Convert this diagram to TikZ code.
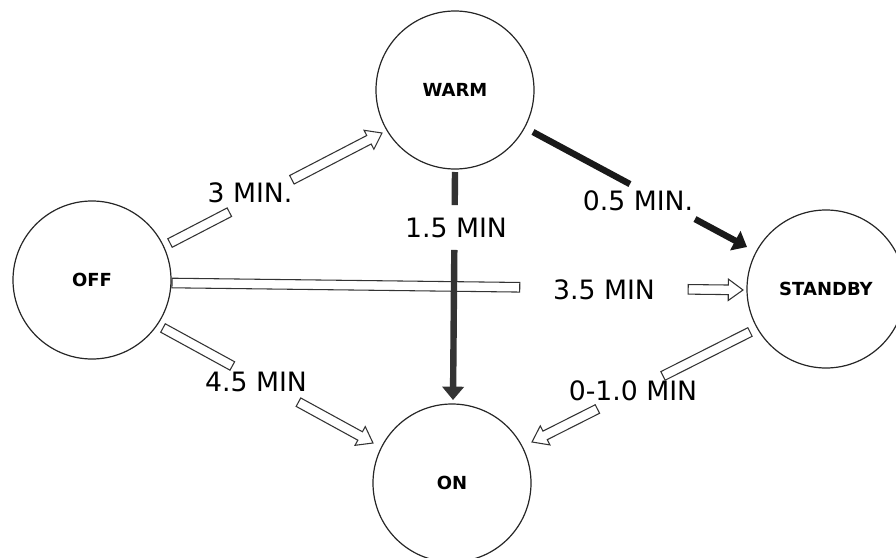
\documentclass[tikz,border=0pt]{standalone}
\usepackage{fontspec}
\setmainfont{DejaVu Sans}
\usetikzlibrary{calc,arrows.meta}
\newcommand\arrSW{3.6pt}
\newcommand\arrHW{8pt}
\newcommand\arrHL{11pt}
\newcommand\hollowbox[2]{\draw[hollowline] ($(#1)!\arrSW!90:(#2)$) -- ($(#2)!\arrSW!-90:(#1)$) -- ($(#2)!\arrSW!90:(#1)$) -- ($(#1)!\arrSW!-90:(#2)$) -- cycle;}
\newcommand\hollowhead[2]{\coordinate (hb) at ($(#2)!\arrHL!(#1)$);
  \draw[hollowline] ($(#1)!\arrSW!90:(#2)$) -- ($(hb)!\arrSW!-90:(#1)$) -- ($(hb)!\arrHW!-90:(#1)$) -- (#2) -- ($(hb)!\arrHW!90:(#1)$) -- ($(hb)!\arrSW!90:(#1)$) -- ($(#1)!\arrSW!-90:(#2)$) -- cycle;}
\begin{document}
\begin{tikzpicture}[x=0.75pt,y=-0.75pt,
  state/.style={circle,draw=black!85,line width=0.9pt,minimum size=118.5pt,inner sep=0pt,font=\fontsize{13.5}{16}\selectfont\bfseries},
  lbl/.style={font=\fontsize{20}{24}\selectfont,inner sep=1pt},
  hollowline/.style={draw=black!80,line width=0.8pt,fill=white,line join=miter},
  blackbar/.style={line width=4.8pt,draw=black!90},
  bartip/.style={-{Triangle[length=10pt,width=16pt]}}
]
\useasboundingbox (0,0) rectangle (896,557);
\fill[white] (0,0) rectangle (896,557);
\begin{scope}
\clip (0,0) rectangle (896,557);
\node[state] (warm) at (455,90) {WARM};
\node[state] (off) at (92,280) {OFF};
\node[state] (standby) at (826,289) {STANDBY};
\node[state] (on) at (452,483) {ON};
\end{scope}

\coordinate (a1) at ($(off)+(78,-37)$);   \coordinate (b1) at ($(warm)+(-73,43)$);
\coordinate (a2) at ($(warm)+(78,42)$);   \coordinate (b2) at ($(standby)+(-79,-42)$);
\coordinate (a3) at ($(warm)+(0,82)$);    \coordinate (b3) at ($(on)+(1,-83)$);
\coordinate (a4) at ($(off)+(80,3)$);     \coordinate (b4) at ($(standby)+(-83,1)$);
\coordinate (a5) at ($(off)+(71,48)$);    \coordinate (b5) at ($(on)+(-79,-40)$);
\coordinate (a6) at ($(standby)+(-76,43)$); \coordinate (b6) at ($(on)+(80,-41)$);

\coordinate (t1) at ($(a1)!0.28!(b1)$);  \coordinate (h1) at ($(a1)!0.575!(b1)$);
\coordinate (t2) at ($(a2)!0.453!(b2)$); \coordinate (h2) at ($(a2)!0.757!(b2)$);
\coordinate (t3) at ($(a3)!0.145!(b3)$); \coordinate (h3) at ($(a3)!0.342!(b3)$);
\coordinate (t4) at ($(a4)!0.609!(b4)$); \coordinate (h4) at ($(a4)!0.904!(b4)$);
\coordinate (t5) at ($(a5)!0.33!(b5)$);  \coordinate (h5) at ($(a5)!0.645!(b5)$);
\coordinate (t6) at ($(a6)!0.399!(b6)$); \coordinate (h6) at ($(a6)!0.70!(b6)$);

% hollow arrows
\hollowbox{a1}{t1} \hollowhead{h1}{b1}
\hollowbox{a4}{t4} \hollowhead{h4}{b4}
\hollowbox{a5}{t5} \hollowhead{h5}{b5}
\hollowbox{a6}{t6} \hollowhead{h6}{b6}

% solid arrows
\draw[blackbar] (a2) -- (t2);
\draw[blackbar,bartip] (h2) -- (b2);
\draw[blackbar,draw=black!80] (a3) -- (t3);
\draw[blackbar,draw=black!80,bartip] (h3) -- (b3);

% labels
\node[lbl] (l1) at (250,193) {3 MIN.};
\node[lbl] (l2) at (638,201) {0.5 MIN.};
\node[lbl] (l3) at (456,228) {1.5 MIN};
\node[lbl] (l4) at (604,290) {3.5 MIN};
\node[lbl] (l5) at (256,382) {4.5 MIN};
\node[lbl] (l6) at (633,391) {0-1.0 MIN};
\end{tikzpicture}
\end{document}
